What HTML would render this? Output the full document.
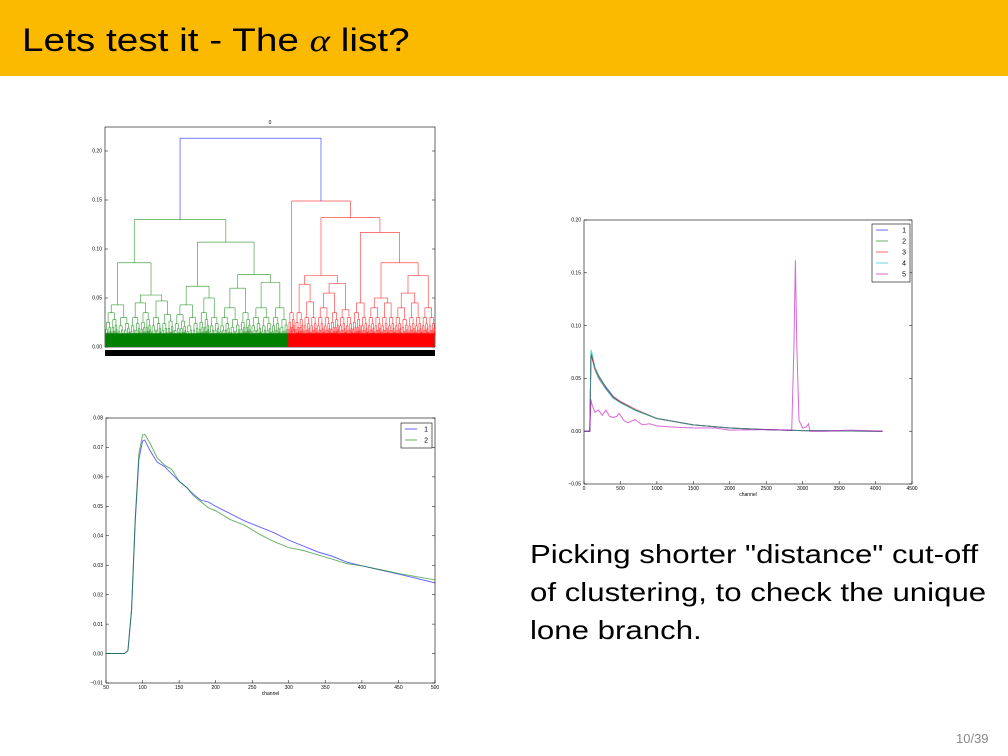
<!DOCTYPE html>
<html><head><meta charset="utf-8"><style>
body{margin:0;width:1008px;height:756px;background:#fff;overflow:hidden;font-family:"Liberation Sans",sans-serif;position:relative}
#bar{position:absolute;left:0;top:0;width:1008px;height:76px;background:#fbba00}
#title{position:absolute;left:22px;top:22px;font-size:32px;color:#000;transform:scaleX(1.21);transform-origin:0 0;white-space:nowrap}
#txt{position:absolute;left:530px;top:535px;font-size:26px;line-height:38px;color:#000;transform:scaleX(1.2);transform-origin:0 0;white-space:nowrap}
#pg{position:absolute;left:956px;top:731px;font-size:13px;color:#888}
svg{position:absolute;left:0;top:0}
svg text{font-family:"Liberation Sans",sans-serif;font-size:5px;fill:#000}
</style></head><body>
<div id="bar"></div>
<div id="title">Lets test it - The <i style="font-family:'Liberation Serif',serif">α</i> list?</div>
<div id="txt">Picking shorter "distance" cut-off<br>of clustering, to check the unique<br>lone branch.</div>
<div id="pg">10/39</div>
<svg id="s" width="1008" height="756"></svg>
<script>
// ---- data: dendrogram (nested [height, left, right]; bushes ['b', leaves, height]) ----
const dendroTicks=[0,0.05,0.10,0.15,0.20];
const greenTree=[0.13,
 [0.086,[0.043,['b',6,0.035],['b',6,0.03]],[0.053,[0.045,['b',5,0.03],['b',5,0.035]],[0.047,['b',5,0.03],['b',6,0.033]]]],
 [0.107,[0.062,[0.043,['b',6,0.033],['b',6,0.03]],[0.05,['b',5,0.035],['b',5,0.03]]],
        [0.074,[0.06,[0.04,['b',5,0.03],['b',5,0.028]],['b',5,0.035]],[0.066,[0.04,['b',5,0.03],['b',5,0.03]],[0.04,['b',4,0.03],['b',4,0.028]]]]]];
const redTree=[0.149,['b',4,0.035],
 [0.132,[0.073,[0.064,['b',5,0.035],[0.046,['b',4,0.03],['b',4,0.03]]],[0.065,[0.055,[0.04,['b',4,0.03],['b',4,0.03]],['b',5,0.035]],[0.038,['b',4,0.03],['b',4,0.03]]]],
   [0.117,[0.045,['b',5,0.035],['b',4,0.03]],[0.086,[0.05,[0.04,['b',4,0.03],['b',4,0.03]],[0.045,['b',4,0.03],['b',4,0.03]]],[0.073,[0.055,[0.04,['b',4,0.03],['b',4,0.028]],[0.045,['b',4,0.03],['b',4,0.03]]],[0.04,['b',4,0.03],['b',4,0.03]]]]]]];
const rootHeight=0.213;
const greenShare=0.555;
// ---- data: bottom-left chart ----
const chX=[50,75,80,85,90,95,100,103,110,120,130,140,150,160,170,180,190,200,220,240,260,280,300,320,340,360,380,400,450,500];
const s1=[0,0,0.001,0.015,0.045,0.066,0.0722,0.0725,0.069,0.065,0.0635,0.061,0.0585,0.0565,0.054,0.052,0.0515,0.050,0.0475,0.045,0.043,0.041,0.0385,0.0365,0.0345,0.033,0.031,0.0298,0.027,0.024];
const s2=[0,0,0.001,0.015,0.046,0.068,0.0742,0.0745,0.0715,0.0665,0.064,0.0625,0.0585,0.0565,0.0535,0.0515,0.0495,0.0485,0.0455,0.0435,0.0405,0.038,0.036,0.035,0.0335,0.032,0.0305,0.0298,0.0272,0.025];
const blXTicks=[50,100,150,200,250,300,350,400,450,500];
const blYTicks=[-0.01,0,0.01,0.02,0.03,0.04,0.05,0.06,0.07,0.08];
// ---- data: right chart ----
const rX=[0,80,95,100,150,200,300,400,500,700,1000,1500,2000,2500,3000,4096];
const r1=[0,0,0.07,0.072,0.06,0.052,0.042,0.033,0.028,0.02,0.012,0.006,0.003,0.0015,0.0005,0];
const r2=[0,0,0.072,0.074,0.06,0.053,0.041,0.032,0.027,0.02,0.012,0.006,0.003,0.0015,0.0005,0];
const r3=[0,0,0.07,0.072,0.058,0.05,0.04,0.032,0.028,0.021,0.012,0.006,0.003,0.0015,0.0005,0];
const r4=[0,0,0.075,0.077,0.06,0.051,0.04,0.031,0.027,0.02,0.012,0.006,0.003,0.0015,0.0005,0];
const r5X=[0,80,95,110,150,200,250,300,350,400,450,480,550,600,700,800,900,1000,1200,1500,1800,2000,2500,2850,2880,2900,2920,2950,3000,3050,3080,3100,3300,3650,4096];
const r5=[0,0,0.03,0.025,0.018,0.02,0.015,0.02,0.014,0.013,0.014,0.017,0.01,0.008,0.011,0.006,0.007,0.005,0.004,0.003,0.003,0.001,0.0015,0.001,0.08,0.162,0.08,0.01,0.003,0.004,0.007,0,0,0.001,0];
const rXTicks=[0,500,1000,1500,2000,2500,3000,3500,4000,4500];
const rYTicks=[-0.05,0,0.05,0.10,0.15,0.20];

const svg=document.getElementById('s');const NS='http://www.w3.org/2000/svg';
function mk(t,a,p){const e=document.createElementNS(NS,t);for(const k in a)e.setAttribute(k,a[k]);(p||svg).appendChild(e);return e;}
function fmt(v){return (v<0?'\u22120':'0')+'.'+Math.round(Math.abs(v)*100).toString().padStart(2,'0');}
function axes(x0,x1,y0,y1,xs,ys,xt,yt,xl,yfmt){
 const f=mk('rect',{x:x0,y:y0,width:x1-x0,height:y1-y0,fill:'none',stroke:'#000','stroke-width':0.6});
 
 
 yt.forEach(v=>{const y=ys(v);mk('line',{x1:x0,x2:x0+3,y1:y,y2:y,stroke:'#000','stroke-width':0.5});mk('line',{x1:x1,x2:x1-3,y1:y,y2:y,stroke:'#000','stroke-width':0.5});
  const t=mk('text',{x:x0-3,y:y+1.7,'text-anchor':'end'});t.textContent=yfmt(v);
  
  });
 if(xt)xt.forEach(v=>{const x=xs(v);mk('line',{x1:x,x2:x,y1:y1,y2:y1-3,stroke:'#000','stroke-width':0.5});
  const t=mk('text',{x:x,y:y1+6,'text-anchor':'middle'});t.textContent=v;
  
  });
 if(xl){const t=mk('text',{x:(x0+x1)/2,y:y1+12,'text-anchor':'middle'});t.textContent=xl;
  
  }
}
function line(xs,ys,X,Y,col,name,w,op){
 const p=mk('polyline',{points:X.map((x,i)=>xs(x)+','+ys(Y[i])).join(' '),fill:'none',stroke:col,'stroke-width':w||1,'stroke-opacity':op||0.6});
 
 
}
function legend(x,y,w,labels,cols){
 const r=mk('rect',{x:x,y:y,width:w,height:labels.length*11+3,fill:'#fff',stroke:'#000','stroke-width':0.6});
 
 
 labels.forEach((l,i)=>{const yy=y+6+i*11;mk('line',{x1:x+4,x2:x+16,y1:yy,y2:yy,stroke:cols[i],'stroke-width':1,'stroke-opacity':0.6});
  const t=mk('text',{x:x+w-4,y:yy+2.5,'text-anchor':'end',style:'font-size:7px'});t.textContent=l;
  
  });
}
// ===== Dendrogram =====
(function(){
 const x0=105,x1=435,y0=127,y1=347;
 const ys=v=>y1-v/0.05*49;
 axes(x0,x1,y0,y1,null,ys,null,dendroTicks,null,v=>v.toFixed(2));
 const tt=mk('text',{x:270,y:124,'text-anchor':'middle'});tt.textContent='0';
 
 
 function count(n){return n[0]==='b'?n[1]:count(n[1])+count(n[2]);}
 const xm=x0+(x1-x0)*greenShare;
 let pos=x0,step=(xm-x0)/count(greenTree);
 function seg(xa,ya,xb,yb,col){mk('line',{x1:xa,y1:ya,x2:xb,y2:yb,stroke:col,'stroke-width':0.7,'stroke-opacity':0.7});}
 function bush(n,h,lo,hi,col){
  if(n<=1||h<0.008)return (lo+hi)/2;
  const mid=(lo+hi)/2;const a=bush(Math.floor(n/2),h*0.72,lo,mid,col),b=bush(Math.ceil(n/2),h*0.8,mid,hi,col);
  const ha=h*0.72<0.008?0.004:h*0.72,hb=h*0.8<0.008?0.004:h*0.8;
  seg(a,ys(h),b,ys(h),col);seg(a,ys(h),a,ys(Math.min(ha,h)),col);seg(b,ys(h),b,ys(Math.min(hb,h)),col);
  return (a+b)/2;
 }
 function draw(n,col){
  if(n[0]==='b'){const lo=pos;pos+=n[1]*step;const hi=pos;
   const x=bush(n[1]*3,n[2],lo,hi,col);return [x,n[2]];}
  const a=draw(n[1],col),b=draw(n[2],col),y=ys(n[0]);
  seg(a[0],y,b[0],y,col);seg(a[0],y,a[0],ys(a[1]),col);seg(b[0],y,b[0],ys(b[1]),col);
  return [(a[0]+b[0])/2,n[0]];
 }
 const g=draw(greenTree,'#008000');
 pos=xm;step=(x1-xm)/count(redTree);
 const r=draw(redTree,'#ff0000');
 const gb=mk('rect',{x:x0+0.5,y:ys(0.014),width:xm-x0,height:ys(0)-ys(0.014),fill:'#008000'});
 
 
 const rb=mk('rect',{x:xm,y:ys(0.014),width:x1-xm-0.5,height:ys(0)-ys(0.014),fill:'#ff0000'});
 
 
 const yr=ys(rootHeight);
 seg(g[0],yr,r[0],yr,'#0000ff');seg(g[0],yr,g[0],ys(g[1]),'#0000ff');seg(r[0],yr,r[0],ys(r[1]),'#0000ff');
 const lb=mk('rect',{x:x0,y:350,width:x1-x0,height:6,fill:'#000'});
 
 
})();
// ===== Bottom-left chart =====
(function(){
 const x0=106,x1=435,y0=418,y1=683;
 const xs=v=>x0+(v-50)/450*(x1-x0),ys=v=>y1-(v+0.01)/0.09*(y1-y0);
 axes(x0,x1,y0,y1,xs,ys,blXTicks,blYTicks,'channel',fmt);
 line(xs,ys,chX,s1,'#0000ff','series-1-line');
 line(xs,ys,chX,s2,'#008000','series-2-line');
 legend(401,423,31,['1','2'],['#0000ff','#008000']);
})();
// ===== Right chart =====
(function(){
 const x0=584,x1=912,y0=220,y1=484;
 const xs=v=>x0+v/4500*(x1-x0),ys=v=>y1-(v+0.05)/0.25*(y1-y0);
 axes(x0,x1,y0,y1,xs,ys,rXTicks,rYTicks,'channel',fmt);
 line(xs,ys,rX,r1,'#0000ff','series-1-line');
 line(xs,ys,rX,r2,'#008000','series-2-line');
 line(xs,ys,rX,r3,'#ff0000','series-3-line');
 line(xs,ys,rX,r4,'#00bfbf','series-4-line');
 line(xs,ys,r5X,r5,'#bf00bf','series-5-line');
 legend(872,224,38,['1','2','3','4','5'],['#0000ff','#008000','#ff0000','#00bfbf','#bf00bf']);
})();
</script>
</body></html>
